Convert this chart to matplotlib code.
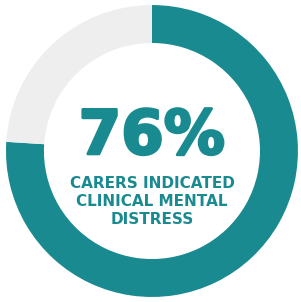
import matplotlib.pyplot as plt
import matplotlib.patheffects as pe

labels = ['Clinical mental distress', 'Other']
values = [76, 24]
colors = ['#1a8a91', '#eeeeee']
headline = '76%'
caption = ['CARERS INDICATED', 'CLINICAL MENTAL', 'DISTRESS']

fig = plt.figure(figsize=(3.01, 3.02), dpi=100)
ax = fig.add_axes([0, 0, 1, 1])
ax.pie(values, colors=colors, startangle=90, counterclock=False,
       wedgeprops=dict(width=0.26, edgecolor='none'))
ax.set_xlim(-1.041, 1.021)
ax.set_ylim(-1.034, 1.034)
ax.axis('off')

# heavy headline number
ax.text(0.0, -0.02, headline, ha='center', va='baseline', color='#1a8a91',
        fontsize=44, fontweight='bold', family='DejaVu Sans',
        path_effects=[pe.withStroke(linewidth=2, foreground='#1a8a91')])
for i, line in enumerate(caption):
    ax.text(0.0, -0.253 - i * 0.123, line, ha='center', va='baseline',
            color='#1a8a91', fontsize=11, fontweight='bold', family='DejaVu Sans')

fig.savefig('out.png', dpi=100)
